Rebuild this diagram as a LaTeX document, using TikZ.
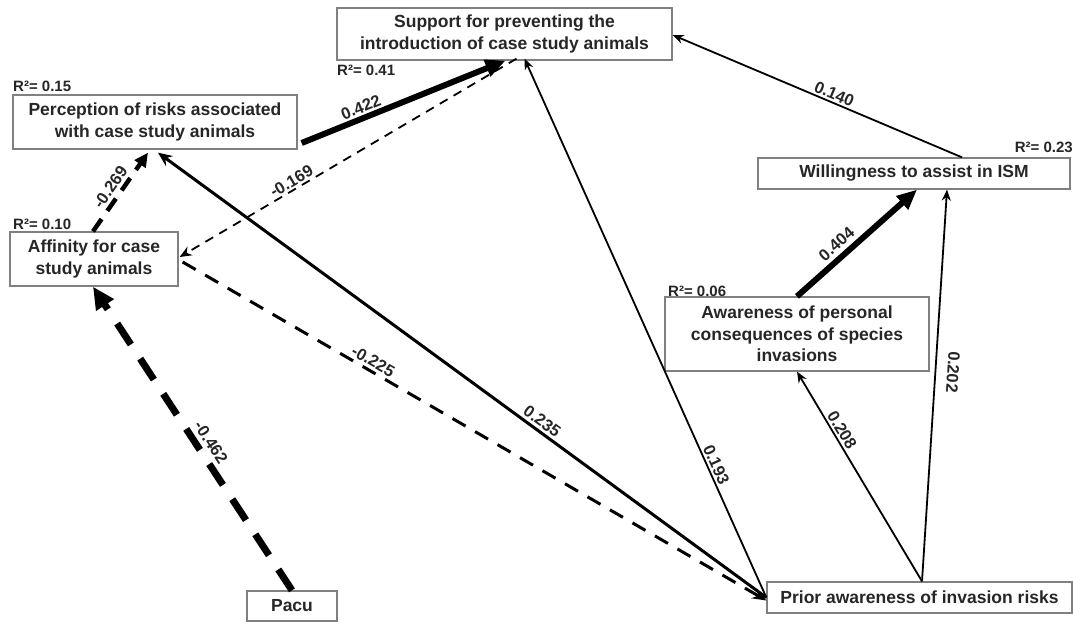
\documentclass[tikz,border=0pt]{standalone}
\usepackage{fontspec}
\setmainfont{Liberation Sans}
\usetikzlibrary{arrows.meta,calc}
\begin{document}
\begin{tikzpicture}[x=1pt,y=-1pt,
  box/.style={draw=black!50,line width=1.3pt,fill=white,inner sep=0pt,align=center,
    font=\bfseries\fontsize{17.5}{21.5}\selectfont,text=black!85},
  lab/.style={font=\bfseries\fontsize{16.5}{16.5}\selectfont,inner sep=0pt,text=black!85},
  rsq/.style={font=\bfseries\fontsize{15}{15}\selectfont,inner sep=0pt,text=black!85},
  bigarr/.style={line width=6pt,-{Triangle[length=20pt,width=17pt]}},
  midarr/.style={line width=3pt,-{Stealth[length=14pt,width=12pt]}},
  thinarr/.style={line width=1.8pt,-{Stealth[length=11pt,width=9pt]}},
  dthin/.style={line width=1.8pt,dash pattern=on 9pt off 7pt,-{Stealth[length=12pt,width=10pt]}},
  dmid/.style={line width=3pt,dash pattern=on 15pt off 11pt,-{Stealth[length=14pt,width=11pt]}},
  dthick/.style={line width=4.5pt,dash pattern=on 15pt off 10pt,-{Triangle[length=14pt,width=13pt]}},
  dhuge/.style={line width=7pt,dash pattern=on 25pt off 17pt,-{Triangle[length=22pt,width=20pt]}}
]
\useasboundingbox (0,0) rectangle (1073,622);
\fill[white] (0,0) rectangle (1073,622);

% nodes
\node[box,minimum width=335pt,minimum height=52pt] (supp) at (504.5,34) {Support for preventing the\\introduction of case study animals};
\node[box,minimum width=284pt,minimum height=54pt] (perc) at (155,122) {Perception of risks associated\\with case study animals};
\node[box,minimum width=168pt,minimum height=54pt] (aff) at (94,259) {Affinity for case\\study animals};
\node[box,minimum width=312pt,minimum height=31pt] (will) at (914,173.5) {Willingness to assist in ISM};
\node[box,minimum width=264pt,minimum height=74pt] (awar) at (797,334) {Awareness of personal\\consequences of species\\invasions};
\node[box,minimum width=305pt,minimum height=31pt] (prior) at (919.5,597.5) {Prior awareness of invasion risks};
\node[box,minimum width=90pt,minimum height=30pt] (pacu) at (292,606) {Pacu};

% R^2 labels
\node[rsq,anchor=west] (r15) at (13,86) {R²= 0.15};
\node[rsq,anchor=west] (r41) at (337,70) {R²= 0.41};
\node[rsq,anchor=west] (r10) at (13,224) {R²= 0.10};
\node[rsq,anchor=east] (r23) at (1073,147) {R²= 0.23};
\node[rsq,anchor=west] (r06) at (668,291) {R²= 0.06};

% connectors with path labels
\draw[bigarr] ([xshift=4pt,yshift=-21pt]perc.east) -- node[lab,sloped,pos=0.31,above=2pt] (l422) {0.422} ([xshift=1pt]supp.south);
\draw[thinarr] (prior.west) -- node[lab,sloped,pos=0.24,above=2pt] (l193) {0.193} ([xshift=20pt,yshift=2pt]supp.south);
\draw[dthin] ([xshift=12pt,yshift=2pt]supp.south) -- node[lab,sloped,pos=0.655,above=2pt] (l169) {-0.169} ([xshift=1pt,yshift=2pt]aff.east);
\draw[dthick] ([xshift=-1pt]aff.north) -- node[lab,sloped,pos=0.48,above=3pt] (l269) {-0.269} ([xshift=-7pt,yshift=-3pt]perc.south);
\draw[midarr] (prior.west) -- node[lab,sloped,pos=0.378,above=2.5pt] (l235) {0.235} ([xshift=3pt,yshift=-3pt]perc.south);
\draw[dmid] ([xshift=4pt,yshift=-3pt]aff.east) -- node[lab,sloped,pos=0.318,above=2.5pt] (l225) {-0.225} ([yshift=-3pt]prior.west);
\draw[dhuge] (pacu.north) -- node[lab,sloped,pos=0.463,above=4pt] (l462) {-0.462} ([xshift=-1pt]aff.south);
\draw[thinarr] ([xshift=48pt]will.north) -- node[lab,sloped,pos=0.453,above=2pt] (l140) {0.140} ([yshift=-1pt]supp.east);
\draw[bigarr] (awar.north) -- node[lab,sloped,pos=0.40,above=4pt] (l404) {0.404} ([xshift=3pt]will.south);
\draw[thinarr] ([xshift=2.5pt]prior.north) -- ([xshift=33pt]will.south);
\draw[thinarr] ([xshift=2.5pt]prior.north) -- node[lab,sloped,pos=0.70,above=2pt] (l208) {0.208} (awar.south);
\node[lab,rotate=-93.6] (l202) at (953,372) {0.202};
\end{tikzpicture}
\end{document}
